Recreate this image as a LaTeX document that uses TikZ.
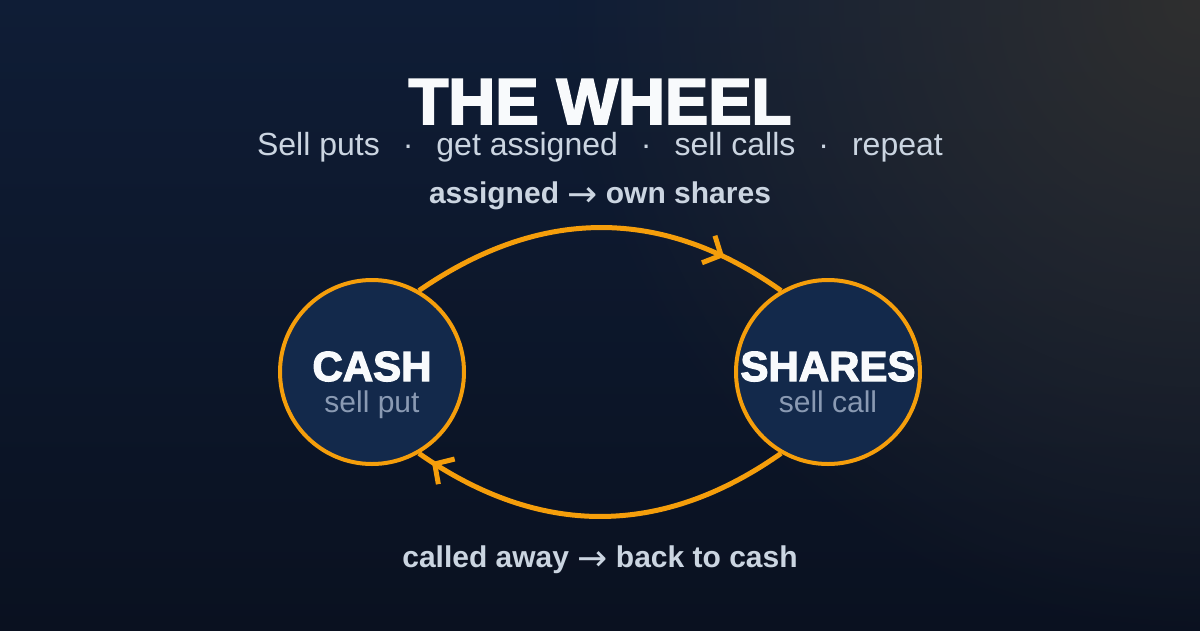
\documentclass[tikz,border=0pt]{standalone}
\usepackage{fontspec}
\setmainfont{Liberation Sans}
\newfontfamily\heavyfont[FakeBold=3]{Liberation Sans Bold}
\newfontfamily\arrowfont{DejaVu Sans}
\usetikzlibrary{arrows.meta,decorations.markings,fadings}
\definecolor{bgtop}{HTML}{0F1D36}
\definecolor{bgbot}{HTML}{0A1120}
\definecolor{glow}{HTML}{2F2F2F}
\definecolor{ring}{HTML}{F59E0B}
\definecolor{hubfill}{HTML}{13294B}
\definecolor{snow}{HTML}{F8FAFC}
\definecolor{mist}{HTML}{CBD5E1}
\definecolor{slate}{HTML}{8A9AB3}
\tikzfading[name=glowfade, inner color=transparent!0, outer color=transparent!100]
\newcommand{\goesto}{\raisebox{-3pt}{\arrowfont\mdseries\fontsize{36}{30}\selectfont →}}
\tikzset{
  hub/.style={circle, draw=ring, line width=4pt, fill=hubfill, minimum size=184pt, inner sep=0pt},
  txt/.style={inner sep=0pt, anchor=base},
  hubname/.style={txt, font=\heavyfont\fontsize{42}{42}\selectfont, text=snow},
  hubnote/.style={txt, font=\fontsize{30}{30}\selectfont, text=slate},
  edgelbl/.style={txt, font=\bfseries\fontsize{30}{30}\selectfont, text=mist},
  cycleline/.style={line width=5pt, ring, postaction={decorate}},
  midtip/.style={decoration={markings, mark=at position #1 with {\arrow{Straight Barb[length=14pt,width=30pt]}}}},
}

\begin{document}
\begin{tikzpicture}[x=1pt, y=-1pt]
    \useasboundingbox (0,0) rectangle (1200,630);
    \shade[top color=bgtop, bottom color=bgbot] (0,0) rectangle (1200,630);
    \begin{scope}
      \clip (0,0) rectangle (1200,630);
      \fill[glow, path fading=glowfade] (1200,0) circle (640);
    \end{scope}

    \node[txt, font=\heavyfont\fontsize{65}{65}\selectfont, text=snow] (title) at (600,124) {THE WHEEL};
    \node[txt, font=\fontsize{32}{32}\selectfont, text=mist] (subtitle) at (600,155)
      {Sell puts\hspace{23pt}·\hspace{23pt}get assigned\hspace{23pt}·\hspace{23pt}sell calls\hspace{23pt}·\hspace{23pt}repeat};

    \node[hub] (cash) at (372,372) {};
    \node[hub] (shares) at (828,372) {};
    \node[hubname] (cashname) at (372,381) {CASH};
    \node[hubnote] (cashnote) at (372,412) {sell put};
    \node[hubname] (sharesname) at (828,381) {SHARES};
    \node[hubnote] (sharesnote) at (828,412) {sell call};

    \draw[cycleline, midtip=0.83] (cash.60) .. controls (540,207) and (662,206) .. (shares.120);
    \draw[cycleline, midtip=0.96] (shares.-120) .. controls (662,537) and (540,538) .. (cash.-60);

    \node[edgelbl] (assigned) at (600,203) {assigned \goesto{} own shares};
    \node[edgelbl] (calledaway) at (600,567) {called away \goesto{} back to cash};
  \end{tikzpicture}
\end{document}
